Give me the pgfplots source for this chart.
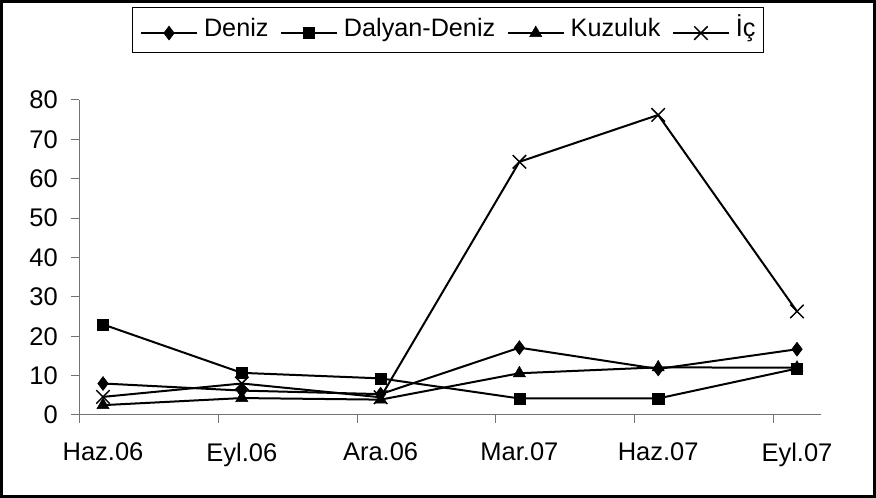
\documentclass[border=0pt]{standalone}
\usepackage{fontspec}
\setmainfont{Liberation Sans}
\usepackage{pgfplots}
\pgfplotsset{compat=1.18}
\begin{document}
\begin{tikzpicture}
\begin{axis}[
  scale only axis, width=742bp, height=315bp,
  xmin=-0.173, xmax=5.173, ymin=0, ymax=80,
  clip=false,
  axis lines=left,
  axis line style={-, black!55, line width=1bp},
  every inner x axis line/.append style={-},
  every inner y axis line/.append style={-},
  every outer x axis line/.append style={-},
  every outer y axis line/.append style={-},
  tick align=outside,
  major tick length=8bp,
  tick style={black!55, line width=1bp},
  xtick={-0.17,0.83,1.83,2.83,3.83,4.83},
  xticklabels={,,,,,},
  extra x ticks={0,1,2,3,4,5},
  extra x tick labels={Haz.06,Eyl.06,Ara.06,Mar.07,Haz.07,Eyl.07},
  extra x tick style={major tick length=0pt},
  xticklabel style={anchor=north, inner sep=0pt, yshift=-28bp},
  ytick={0,10,...,80},
  yticklabel style={anchor=east, inner sep=0pt},
  yticklabel shift=13bp,
  /pgf/number format/assume math mode=true,
  tick label style={font=\fontsize{25.5bp}{30bp}\selectfont, black},
  legend columns=4,
  legend style={at={(0.497,1.295)}, anchor=north, draw=black, line width=1bp,
    inner xsep=8bp, inner ysep=11bp,
    font=\fontsize{25.2bp}{30bp}\selectfont,
    nodes={inner sep=0pt, text height=18bp, text depth=5bp},
    /tikz/every odd column/.append style={column sep=6bp},
    /tikz/every even column/.append style={column sep=11.5bp}},
  legend image code/.code={\draw[mark repeat=2,mark phase=2,yshift=-3bp] plot coordinates {(0bp,0bp) (28bp,0bp) (56bp,0bp)};},
  every axis plot/.append style={black, line width=2bp},
]
\addplot[mark=diamond*, mark size=7bp, mark options={solid, line width=0.5bp}] coordinates {
  (0,8.0) (1,6.2) (2,5.3) (3,17.1) (4,11.7) (5,16.7)};
\addlegendentry{Deniz}
\addplot[mark=square*, mark size=5.6bp, mark options={solid, line width=0.5bp}] coordinates {
  (0,23.0) (1,10.7) (2,9.3) (3,4.2) (4,4.2) (5,11.8)};
\addlegendentry{Dalyan-Deniz}
\addplot[mark=triangle*, mark size=7bp, mark options={solid, line width=0.5bp}] coordinates {
  (0,2.5) (1,4.3) (2,3.9) (3,10.6) (4,12.1) (5,12.0)};
\addlegendentry{Kuzuluk}
\addplot[mark=x, mark size=9.5bp, mark options={solid, line width=1.5bp}] coordinates {
  (0,4.6) (1,8.0) (2,4.5) (3,64.3) (4,76.2) (5,26.3)};
\addlegendentry{İç}
\end{axis}
\path ([xshift=-79bp,yshift=-83bp]current axis.south west) rectangle ([xshift=55bp,yshift=100bp]current axis.north east);
\draw[line width=3bp] ([xshift=-77.5bp,yshift=-81.5bp]current axis.south west) rectangle ([xshift=53.5bp,yshift=98.5bp]current axis.north east);
\end{tikzpicture}
\end{document}
